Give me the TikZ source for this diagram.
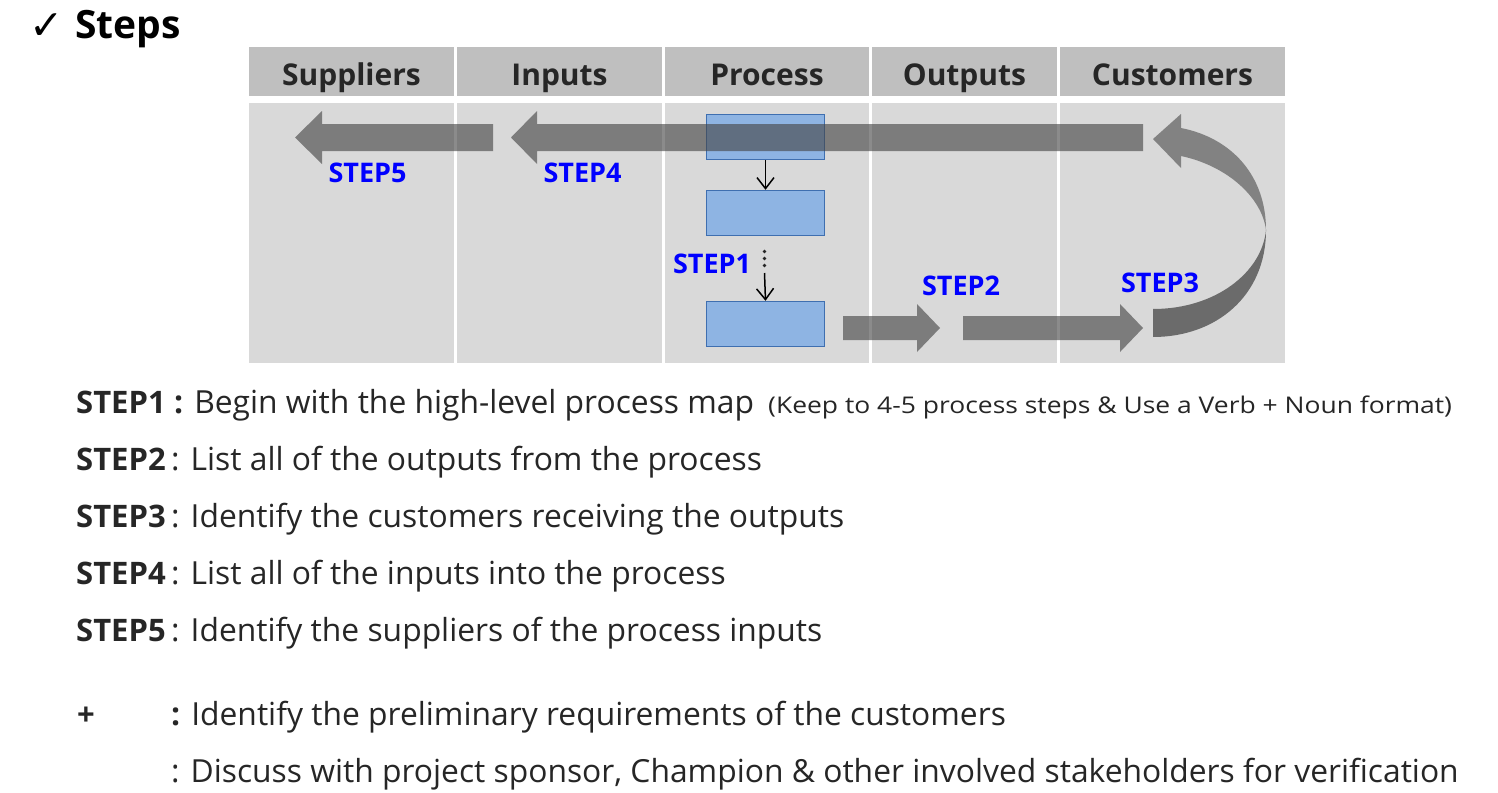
\documentclass[tikz,border=0pt]{standalone}
\usepackage{fontspec}
\setmainfont{Open Sans}
\newfontfamily\symfont{DejaVu Sans}
\usetikzlibrary{arrows.meta}
\definecolor{hdrgray}{HTML}{BFBFBF}
\definecolor{bodygray}{HTML}{D9D9D9}
\definecolor{boxblue}{HTML}{8EB4E3}
\definecolor{boxedge}{HTML}{3F6FB0}
\definecolor{txt}{HTML}{262626}
\definecolor{arrgray}{HTML}{444444}
\definecolor{curvelight}{HTML}{828282}
\definecolor{curvedark}{HTML}{6B6B6B}
\tikzset{
  hdrcell/.style={fill=hdrgray, draw=none, inner sep=0pt, minimum height=49pt, text=txt,
     text height=30pt, text depth=3pt,
     font=\fontsize{30}{34}\selectfont\bfseries},
  bodycell/.style={fill=bodygray, draw=none, inner sep=0pt, minimum height=260pt},
  procbox/.style={fill=boxblue, draw=boxedge, line width=1.4pt, minimum width=118pt, minimum height=45pt, inner sep=0pt},
  biggray/.style={fill=arrgray, fill opacity=0.62, draw=none},
  steplbl/.style={text=blue, font=\fontsize{27}{32}\selectfont\bfseries, inner sep=0pt},
  smallarr/.style={line width=1.5pt, -{Straight Barb[length=11pt,width=17pt]}},
  bodytxt/.style={text=txt, font=\fontsize{31.8}{36}\selectfont, inner sep=0pt, anchor=base west},
  boldtxt/.style={text=txt, font=\fontsize{31}{36}\selectfont\bfseries, inner sep=0pt, anchor=base west},
  smalltxt/.style={text=txt, font=\fontsize{23}{27}\selectfont, inner sep=0pt, anchor=base west},
}
\begin{document}
\begin{tikzpicture}[x=1pt,y=-1pt]
\useasboundingbox (0,0) rectangle (1498,792);
\fill[white] (0,0) rectangle (1498,792);

% title
\node[text=black, font=\symfont\fontsize{41}{46}\selectfont, inner sep=0pt] (chk) at (46.5,27) {✓};
\node[text=black, font=\fontsize{39}{44}\selectfont\bfseries, inner sep=0pt, anchor=base west] (ttl) at (75,39) {Steps};

% header cells
\node[hdrcell, minimum width=205pt] (hS) at (351.5,71.5) {Suppliers};
\node[hdrcell, minimum width=205pt] (hI) at (559.5,71.5) {Inputs};
\node[hdrcell, minimum width=204pt] (hP) at (767,71.5) {Process};
\node[hdrcell, minimum width=185pt] (hO) at (964.5,71.5) {Outputs};
\node[hdrcell, minimum width=225pt] (hC) at (1172.5,71.5) {Customers};

% body cells
\node[bodycell, minimum width=205pt] (bS) at (351.5,232.5) {};
\node[bodycell, minimum width=205pt] (bI) at (559.5,232.5) {};
\node[bodycell, minimum width=204pt] (bP) at (767,232.5) {};
\node[bodycell, minimum width=185pt] (bO) at (964.5,232.5) {};
\node[bodycell, minimum width=225pt] (bC) at (1172.5,232.5) {};

% process boxes
\node[procbox] (p1) at (765.5,137) {};
\node[procbox] (p2) at (765.5,213) {};
\node[procbox] (p3) at (765.5,324) {};

\draw[smallarr] (p1.south) -- (p2.north);
\fill[txt] (764.5,251.5) circle (1.8pt);
\fill[txt] (764.5,258.5) circle (1.8pt);
\fill[txt] (764.5,265.5) circle (1.8pt);
\coordinate (dotend) at (764.5,273);
\draw[smallarr] (dotend) -- (p3.north);

% big gray arrows
\fill[biggray] (1143,124) -- (537,124) -- (537,111) -- (511,137.5) -- (537,164) -- (537,151) -- (1143,151) -- cycle;
\fill[biggray] (493,124) -- (322,124) -- (322,111) -- (295,137.5) -- (322,164) -- (322,151) -- (493,151) -- cycle;
\fill[biggray] (843,316) -- (917,316) -- (917,304) -- (940,328) -- (917,352) -- (917,340) -- (843,340) -- cycle;
\fill[biggray] (963,316) -- (1120,316) -- (1120,304) -- (1143,328) -- (1120,352) -- (1120,340) -- (963,340) -- cycle;

% curved arrow
\fill[curvedark] (1266,230) .. controls (1266,296) and (1216,337) .. (1153,337)
   -- (1153,309) .. controls (1216,309) and (1262,272) .. (1266,230) -- cycle;
\fill[curvelight] (1181,128) .. controls (1232,138) and (1266,176) .. (1266,230)
   .. controls (1262,198) and (1228,166) .. (1181,156)
   -- (1181,168) -- (1153,139) -- (1181,114) -- cycle;

% step labels
\node[steplbl] (s1) at (712,264) {STEP1};
\node[steplbl] (s2) at (961,286) {STEP2};
\node[steplbl] (s3) at (1160,283) {STEP3};
\node[steplbl] (s4) at (582.5,172.5) {STEP4};
\node[steplbl] (s5) at (367.5,172.5) {STEP5};

% text lines
\node[boldtxt] (l1a) at (76,413) {STEP1};
\node[bodytxt] (l1b) at (174,413) {\textbf{:} Begin with the high-level process map};
\node[smalltxt] (l1c) at (768,413) {\scalebox{1.15}[1]{(Keep to 4-5 process steps \& Use a Verb + Noun format)}};
\node[boldtxt] (l2a) at (76,470) {STEP2};
\node[bodytxt] (l2b) at (171,470) {: List all of the outputs from the process};
\node[boldtxt] (l3a) at (76,527) {STEP3};
\node[bodytxt] (l3b) at (171,527) {: Identify the customers receiving the outputs};
\node[boldtxt] (l4a) at (76,584) {STEP4};
\node[bodytxt] (l4b) at (171,584) {: List all of the inputs into the process};
\node[boldtxt] (l5a) at (76,641) {STEP5};
\node[bodytxt] (l5b) at (171,641) {: Identify the suppliers of the process inputs};
\node[boldtxt] (l6a) at (77,725) {+};
\node[bodytxt] (l6b) at (171,725) {\textbf{:} Identify the preliminary requirements of the customers};
\node[bodytxt] (l7b) at (171,782) {: Discuss with project sponsor, Champion \& other involved stakeholders for verification};
\end{tikzpicture}
\end{document}
